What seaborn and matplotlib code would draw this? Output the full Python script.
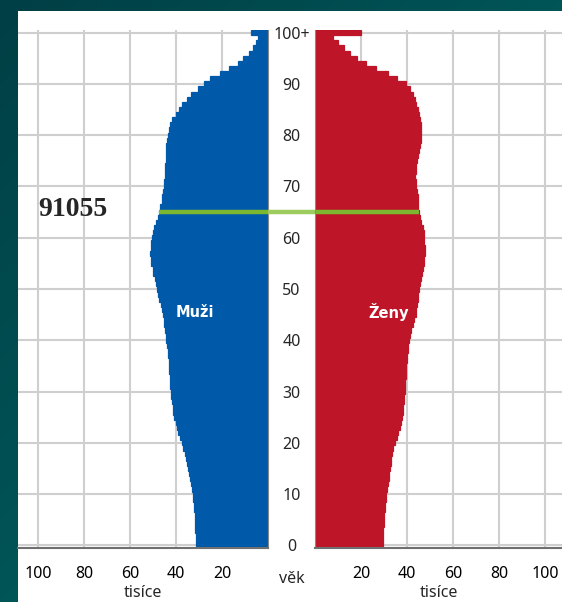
import numpy as np
import pandas as pd
import matplotlib
matplotlib.use("Agg")
import matplotlib.pyplot as plt
from matplotlib.colors import LinearSegmentedColormap
from matplotlib.patches import Rectangle
from matplotlib.lines import Line2D
import seaborn as sns

# age 0 .. 100+ (thousands)
ages = list(range(101))
age_labels = ["0", "10", "20", "30", "40", "50", "60", "70", "80", "90", "100+"]
x_ticks = [20, 40, 60, 80, 100]

men = [31.2, 31.3, 31.4, 31.6, 31.7, 31.8, 31.9, 32.1, 32.3, 32.5,
       32.7, 33.1, 33.5, 33.9, 34.3, 34.7, 35.1, 35.6, 36.3, 36.9,
       37.5, 38.3, 39.0, 39.6, 40.2, 40.7, 41.1, 41.5, 41.8, 42.1,
       42.3, 42.5, 42.6, 42.8, 42.9, 43.0, 43.1, 43.4, 43.6, 43.9,
       44.2, 44.5, 44.8, 45.1, 45.4, 45.7, 46.2, 46.6, 47.2, 47.8,
       48.3, 48.9, 49.3, 49.8, 50.2, 50.7, 51.0, 51.2, 51.0, 50.7,
       50.3, 50.0, 49.4, 48.8, 48.0, 47.4, 46.8, 46.3, 46.0, 45.7,
       45.4, 45.2, 44.9, 44.7, 44.6, 44.5, 44.4, 44.3, 44.2, 43.8,
       43.3, 43.0, 42.5, 41.6, 40.1, 38.7, 37.2, 35.4, 33.3, 30.4,
       27.8, 25.4, 21.0, 16.9, 13.0, 10.9, 8.3, 6.5, 5.4, 4.3,
       7.2]

women = [29.6, 29.6, 29.7, 29.7, 29.9, 30.1, 30.2, 30.4, 30.6, 30.8,
         31.0, 31.3, 31.6, 32.0, 32.3, 32.6, 32.9, 33.2, 33.6, 34.1,
         34.6, 35.5, 36.3, 37.0, 37.5, 37.9, 38.2, 38.4, 38.7, 38.9,
         39.1, 39.2, 39.3, 39.4, 39.6, 39.7, 39.8, 40.1, 40.4, 40.6,
         40.9, 41.3, 41.8, 42.5, 43.2, 43.8, 44.1, 44.4, 44.7, 45.0,
         45.2, 45.5, 45.9, 46.4, 46.9, 47.3, 47.6, 47.7, 47.7, 47.6,
         47.4, 47.2, 46.8, 46.3, 45.7, 45.2, 45.0, 44.9, 44.8, 44.4,
         44.1, 43.7, 43.6, 43.8, 44.1, 44.3, 44.8, 45.2, 45.7, 45.9,
         45.9, 45.9, 45.9, 45.7, 45.1, 44.6, 44.1, 43.3, 42.5, 41.3,
         39.4, 35.8, 31.7, 26.7, 22.3, 18.4, 15.2, 12.6, 10.0, 8.0,
         20.1]

marked_age = 65
marked_text = "91055"

blue = "#0059a9"
red = "#be1628"
grid_c = "#cfcfcf"

sns.set_style("white")
plt.rcParams["font.family"] = ["Noto Sans", "DejaVu Sans"]

W, H = 562, 602
fig = plt.figure(figsize=(W / 100, H / 100), dpi=100)

# teal gradient background + white panel
bg = fig.add_axes([0, 0, 1, 1], zorder=-10)
gx, gy = np.meshgrid(np.linspace(0, 1, 200), np.linspace(0, 1, 200))
cmap = LinearSegmentedColormap.from_list("teal", ["#003f45", "#006b69"])
bg.imshow((gx + gy) / 2, cmap=cmap, aspect="auto", extent=[0, 1, 0, 1], origin="upper")
bg.add_patch(Rectangle((18 / W, 0), 1, (H - 10.5) / H, transform=bg.transAxes,
                       facecolor="white", edgecolor="none"))
bg.set_xlim(0, 1)
bg.set_ylim(0, 1)
bg.axis("off")

bottom = (H - 548) / H
height = 518 / H
ax_l = fig.add_axes([18 / W, bottom, 250 / W, height])
ax_r = fig.add_axes([315 / W, bottom, 247 / W, height])

df = pd.DataFrame({"age": ages, "men": men, "women": women})

sns.barplot(data=df, x="men", y="age", orient="y", native_scale=True, width=1,
            color=blue, saturation=1, edgecolor=blue, linewidth=0.9, ax=ax_l)
sns.barplot(data=df, x="women", y="age", orient="y", native_scale=True, width=1,
            color=red, saturation=1, edgecolor=red, linewidth=0.9, ax=ax_r)

ax_l.set_xlim(108.7, 0)
ax_r.set_xlim(0, 107.4)

for ax in (ax_l, ax_r):
    ax.set_ylim(-0.5, 100.5)
    ax.set_yticks(list(range(0, 101, 10)))
    ax.set_xticks(x_ticks)
    ax.set_xticklabels([str(t) for t in x_ticks])
    ax.set_axisbelow(True)
    ax.grid(True, color=grid_c, linewidth=1.5)
    ax.tick_params(axis="x", length=0, pad=13, labelsize=11.5, colors="black")
    ax.tick_params(axis="y", length=0)
    ax.set_ylabel("")
    ax.set_xlabel("tisíce", fontsize=11.5, labelpad=2)
    ax.set_facecolor("none")
    for s in ax.spines.values():
        s.set_visible(False)
    ax.spines["bottom"].set_visible(True)
    ax.spines["bottom"].set_color("#707070")
    ax.spines["bottom"].set_linewidth(1.5)

ax_l.spines["right"].set_visible(True)
ax_l.spines["right"].set_color("#8a8a8a")
ax_r.spines["left"].set_visible(True)
ax_r.spines["left"].set_color("#8a8a8a")

ax_l.set_yticklabels([])
ax_r.set_yticklabels(age_labels)
ax_r.tick_params(axis="y", pad=17, labelsize=11.5)
for lab in ax_r.get_yticklabels():
    lab.set_horizontalalignment("center")

fig.text(291.5 / W, 1 - 579 / H, "věk", ha="center", va="center", fontsize=11.5)

# green line at the marked age
ax_l.plot([men[marked_age], 0], [marked_age, marked_age], color="#7cb82f", lw=3.2,
          solid_capstyle="butt")
ax_r.plot([0, women[marked_age]], [marked_age, marked_age], color="#7cb82f", lw=3.2,
          solid_capstyle="butt")
y_line = ax_r.transData.transform((0, marked_age))[1] / H
fig.add_artist(Line2D([268 / W, 315 / W], [y_line, y_line], color="#9dcc5e", lw=3.2,
                      solid_capstyle="butt"))

ax_l.text(0.08, marked_age + 0.5, marked_text, transform=ax_l.get_yaxis_transform(),
          fontsize=20, fontweight="bold", family="Liberation Serif", ha="left", va="center")
ax_l.text(31.7, 45.5, "Muži", color="white", fontsize=10.5, fontweight="bold",
          family="DejaVu Sans", ha="center", va="center")
ax_r.text(32.2, 45.5, "Ženy", color="white", fontsize=10.5, fontweight="bold",
          family="DejaVu Sans", ha="center", va="center")

fig.savefig("out.png", dpi=100)
